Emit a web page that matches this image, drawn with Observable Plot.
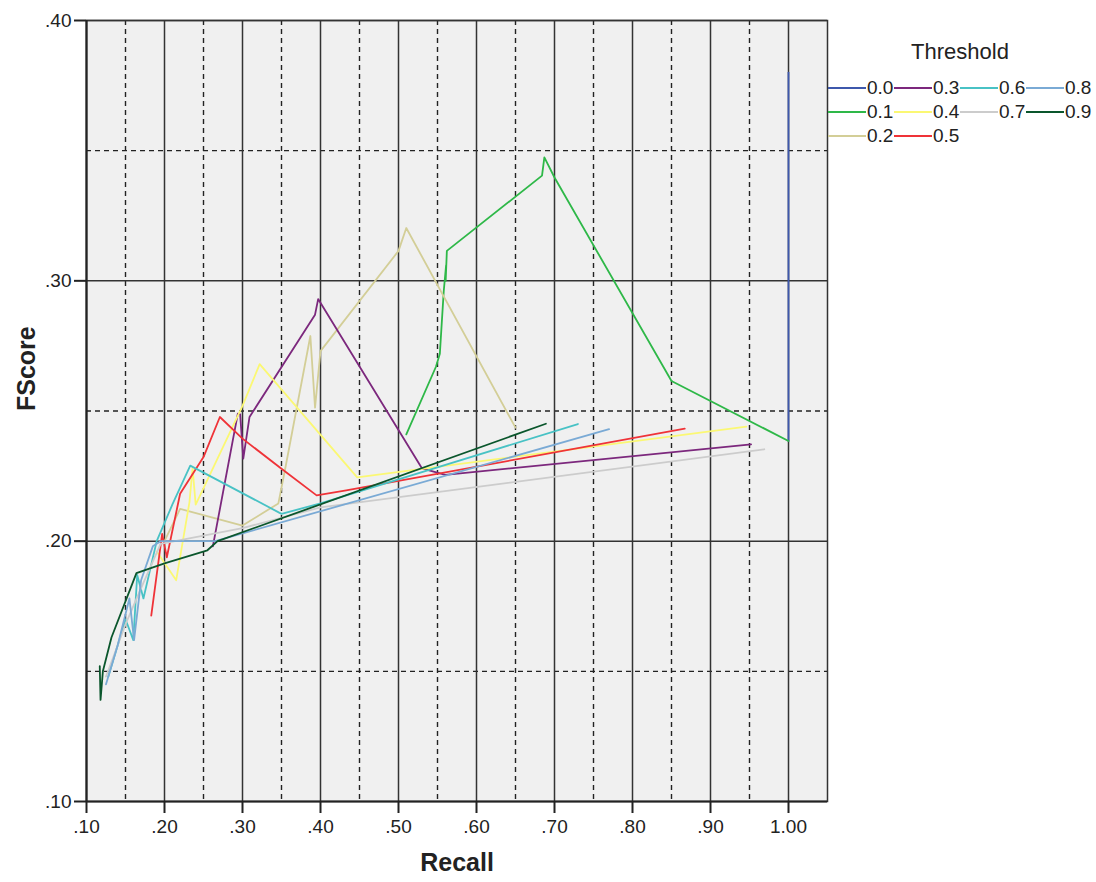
<!DOCTYPE html>
<html>
<head>
<meta charset="utf-8">
<script src="https://cdn.jsdelivr.net/npm/d3@7"></script>
<script src="https://cdn.jsdelivr.net/npm/@observablehq/plot@0.6"></script>
<style>
  html, body { margin: 0; padding: 0; background: #fff; }
  #wrap { position: relative; width: 1096px; height: 882px; font-family: "Liberation Sans", Arial, sans-serif; }
  #legend { position: absolute; left: 828px; top: 38px; width: 264px; color: #222; }
  #legend .title { text-align: center; font-size: 22px; height: 28px; line-height: 28px; margin-bottom: 10px; }
  #legend .grid { display: grid; grid-template-rows: repeat(3, 24px); grid-template-columns: repeat(4, 66px); }
  #legend .item { display: flex; align-items: center; font-size: 19px; }
  #legend .swatch { width: 38px; height: 2px; margin-right: 1px; }
</style>
</head>
<body>
<div id="wrap"></div>
<script>
const thresholds = ["0.0","0.1","0.2","0.3","0.4","0.5","0.6","0.7","0.8","0.9"];
const colors = ["#3E58AC","#2EB848","#D3CE97","#7C287D","#FBF873","#EF3338","#48C2C5","#CCCCCC","#7AAAD5","#0A562C"];

const xTicks = [0.1,0.2,0.3,0.4,0.5,0.6,0.7,0.8,0.9,1.0];
const xMinor = [0.15,0.25,0.35,0.45,0.55,0.65,0.75,0.85,0.95];
const yTicks = [0.1,0.2,0.3,0.4];
const yMinor = [0.15,0.25,0.35];

const recall00 = [1.0, 1.0];
const fscore00 = [0.38, 0.2385];
const recall01 = [0.51, 0.548, 0.553, 0.558, 0.561, 0.5605, 0.562, 0.684, 0.687, 0.70, 0.85, 1.0];
const fscore01 = [0.241, 0.267, 0.272, 0.296, 0.306, 0.300, 0.3115, 0.3404, 0.3474, 0.3397, 0.2615, 0.2385];
const recall02 = [0.20, 0.22, 0.30, 0.346, 0.355, 0.387, 0.393, 0.40, 0.50, 0.51, 0.65];
const fscore02 = [0.200, 0.2124, 0.206, 0.2145, 0.2282, 0.2788, 0.2513, 0.273, 0.3115, 0.3203, 0.2436];
const recall03 = [0.262, 0.294, 0.297, 0.301, 0.309, 0.393, 0.397, 0.53, 0.56, 0.952];
const fscore03 = [0.198, 0.249, 0.2487, 0.2317, 0.2477, 0.287, 0.293, 0.228, 0.2255, 0.2372];
const recall04 = [0.19, 0.215, 0.232, 0.236, 0.240, 0.30, 0.322, 0.447, 0.946];
const fscore04 = [0.196, 0.185, 0.215, 0.228, 0.214, 0.252, 0.268, 0.2245, 0.244];
const recall05 = [0.183, 0.197, 0.203, 0.22, 0.25, 0.271, 0.30, 0.35, 0.395, 0.433, 0.867];
const fscore05 = [0.1714, 0.2028, 0.1938, 0.2182, 0.2323, 0.2477, 0.2394, 0.2278, 0.2176, 0.2195, 0.2432];
const recall06 = [0.128, 0.15, 0.16, 0.165, 0.173, 0.19, 0.21, 0.233, 0.35, 0.40, 0.73];
const fscore06 = [0.148, 0.170, 0.162, 0.187, 0.178, 0.20, 0.214, 0.229, 0.2105, 0.2145, 0.245];
const recall07 = [0.125, 0.15, 0.17, 0.195, 0.30, 0.40, 0.969];
const fscore07 = [0.148, 0.168, 0.182, 0.199, 0.205, 0.213, 0.2353];
const recall08 = [0.125, 0.14, 0.155, 0.161, 0.17, 0.185, 0.195, 0.265, 0.77];
const fscore08 = [0.145, 0.160, 0.178, 0.162, 0.185, 0.198, 0.20, 0.20, 0.243];
const recall09 = [0.117, 0.118, 0.121, 0.132, 0.164, 0.20, 0.255, 0.268, 0.689];
const fscore09 = [0.152, 0.139, 0.150, 0.163, 0.1877, 0.1915, 0.1965, 0.200, 0.2451];

// legend placement: column-major, 3 + 3 + 2 + 2
const legendCols = [1,1,1,2,2,2,3,3,4,4];
const legendRows = [1,2,3,1,2,3,1,2,1,2];

const recalls = [recall00, recall01, recall02, recall03, recall04, recall05, recall06, recall07, recall08, recall09];
const fscores = [fscore00, fscore01, fscore02, fscore03, fscore04, fscore05, fscore06, fscore07, fscore08, fscore09];

const table = [];
thresholds.forEach((t, i) => {
  recalls[i].forEach((r, j) => table.push({threshold: t, recall: r, fscore: fscores[i][j]}));
});

const fmt = d => d3.format(".2f")(d).replace(/^0/, "");

const chart = Plot.plot({
  width: 1096,
  height: 882,
  marginLeft: 86,
  marginRight: 269,
  marginTop: 20,
  marginBottom: 81,
  x: {domain: [0.1, 1.05]},
  y: {domain: [0.1, 0.4]},
  color: {domain: thresholds, range: colors},
  style: {fontFamily: "'Liberation Sans', Arial, sans-serif", fontSize: "19px", color: "#222", background: "white"},
  marks: [
    Plot.frame({fill: "#f0f0f0"}),
    Plot.ruleX(xMinor, {stroke: "#222", strokeWidth: 1.4, strokeDasharray: "5,4"}),
    Plot.ruleY(yMinor, {stroke: "#222", strokeWidth: 1.4, strokeDasharray: "5,4"}),
    Plot.ruleX(xTicks.slice(1), {stroke: "#333", strokeWidth: 1.5}),
    Plot.ruleY(yTicks.slice(1), {stroke: "#333", strokeWidth: 1.5}),
    Plot.line(table, {x: "recall", y: "fscore", z: "threshold", stroke: "threshold", strokeWidth: 1.8}),
    Plot.frame({stroke: "#333", strokeWidth: 1.5}),
    Plot.ruleX([0.1], {stroke: "#222", strokeWidth: 2.2}),
    Plot.ruleY([0.1], {stroke: "#222", strokeWidth: 2.2}),
    Plot.axisX({ticks: xTicks, tickFormat: fmt, tickSize: 12, tickPadding: 6, label: null, strokeWidth: 2}),
    Plot.axisY({ticks: yTicks, tickFormat: fmt, tickSize: 12, tickPadding: 3, label: null, strokeWidth: 2}),
    Plot.text(["Recall"], {frameAnchor: "bottom", dy: 69, text: d => d, fontWeight: "bold", fontSize: 25, fill: "#222"}),
    Plot.text(["FScore"], {frameAnchor: "left", dx: -60, text: d => d, rotate: -90, fontWeight: "bold", fontSize: 25, fill: "#222"})
  ]
});

const wrap = document.getElementById("wrap");
wrap.appendChild(chart);

const legend = document.createElement("div");
legend.id = "legend";
const title = document.createElement("div");
title.className = "title";
title.textContent = "Threshold";
legend.appendChild(title);
const grid = document.createElement("div");
grid.className = "grid";
thresholds.forEach((t, i) => {
  const item = document.createElement("div");
  item.className = "item";
  item.style.gridColumn = legendCols[i];
  item.style.gridRow = legendRows[i];
  const sw = document.createElement("span");
  sw.className = "swatch";
  sw.style.background = colors[i];
  const lab = document.createElement("span");
  lab.textContent = t;
  item.appendChild(sw);
  item.appendChild(lab);
  grid.appendChild(item);
});
legend.appendChild(grid);
wrap.appendChild(legend);
</script>
</body>
</html>
